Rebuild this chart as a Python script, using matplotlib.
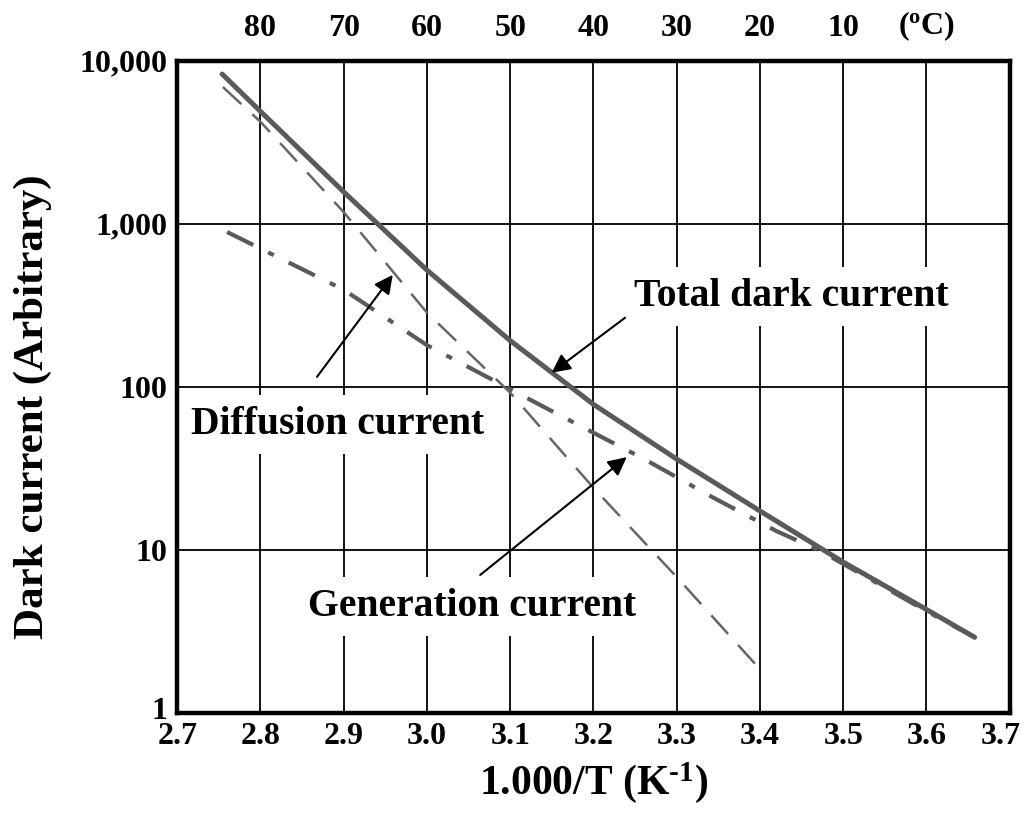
import numpy as np
import matplotlib
matplotlib.use("Agg")
import matplotlib.pyplot as plt
from matplotlib.transforms import ScaledTranslation

plt.rcParams['font.family'] = ['Liberation Serif', 'DejaVu Serif']
plt.rcParams['font.weight'] = 'bold'
plt.rcParams['axes.labelweight'] = 'bold'
plt.rcParams['mathtext.fontset'] = 'custom'
plt.rcParams['mathtext.rm'] = 'Liberation Serif:bold'
plt.rcParams['mathtext.it'] = 'Liberation Serif:bold'
plt.rcParams['mathtext.bf'] = 'Liberation Serif:bold'

# values
x_ticks = [2.7, 2.8, 2.9, 3.0, 3.1, 3.2, 3.3, 3.4, 3.5, 3.6, 3.7]
x_labels = ["2.7", "2.8", "2.9", "3.0", "3.1", "3.2", "3.3", "3.4", "3.5", "3.6", "3.7"]
y_ticks = [1, 10, 100, 1000, 10000]
y_labels = ["1", "10", "100", "1,000", "10,000"]
top_ticks = [2.8, 2.9, 3.0, 3.1, 3.2, 3.3, 3.4, 3.5, 3.6]
top_labels = ["80", "70", "60", "50", "40", "30", "20", "10", r"(${}^{\rm o}$C)"]

total_x = [2.754, 2.8, 2.9, 3.0, 3.1, 3.2, 3.3, 3.4, 3.5, 3.6, 3.658]
total_y = [8300, 4900, 1570, 520, 192, 78, 36, 17.3, 8.4, 4.3, 2.9]

diff_x = [2.755, 2.8, 2.9, 3.0, 3.1, 3.2, 3.3, 3.406]
diff_y = [6900, 4230, 1180, 285, 92, 24, 6.8, 1.71]

gen_x = [2.76, 2.9, 3.0, 3.152, 3.261, 3.343, 3.42, 3.473, 3.6, 3.658]
gen_y = [890, 394, 180, 70, 36, 21, 13, 9.8, 4.2, 2.9]

fig = plt.figure(figsize=(10.24, 8.22), dpi=100)
ax = fig.add_axes([0.173, 0.133, 0.813, 0.793])
ax.set_yscale('log')
ax.set_xlim(2.7, 3.7)
ax.set_ylim(1, 10000)

ax.set_xticks(x_ticks, labels=x_labels)
ax.set_yticks(y_ticks, labels=y_labels)
ax.minorticks_off()
ax.tick_params(length=0, labelsize=23)
ax.tick_params(axis='x', pad=7)
ax.tick_params(axis='y', pad=7)
ax.grid(True, which='major', color='black', lw=1.3)
ax.set_axisbelow(True)
for sp in ax.spines.values():
    sp.set_linewidth(3.2)

# nudge the corner labels so they neither collide nor leave the figure
last = ax.get_xticklabels()[-1]
last.set_transform(last.get_transform() + ScaledTranslation(-0.09, 0, fig.dpi_scale_trans))
one = ax.get_yticklabels()[0]
one.set_transform(one.get_transform() + ScaledTranslation(0, 0.05, fig.dpi_scale_trans))

gray = '#5a5a5a'
ax.plot(gen_x, gen_y, color=gray, lw=3.0, dashes=(7, 4, 1.5, 4), zorder=3)
ax.plot(diff_x, diff_y, color='#666666', lw=1.8, dashes=(10, 6), zorder=3)
ax.plot(total_x, total_y, color=gray, lw=3.6, solid_capstyle='round', zorder=4)

box = dict(facecolor='white', edgecolor='none', pad=8)
ax.text(3.438, 356, "Total dark current", fontsize=28.5, ha='center', va='center',
        bbox=box, zorder=5)
ax.text(2.893, 59, "Diffusion current", fontsize=28.5, ha='center', va='center',
        bbox=box, zorder=5)
ax.text(3.054, 4.47, "Generation current", fontsize=28.5, ha='center', va='center',
        bbox=box, zorder=5)

arrow = dict(arrowstyle='-|>', color='black', lw=1.5, mutation_scale=28,
             shrinkA=0, shrinkB=0)
ax.annotate("", xy=(3.150, 122), xytext=(3.238, 265), arrowprops=arrow, zorder=6)
ax.annotate("", xy=(2.959, 486), xytext=(2.868, 115), arrowprops=arrow, zorder=6)
ax.annotate("", xy=(3.240, 37), xytext=(3.064, 7.0), arrowprops=arrow, zorder=6)

top = ax.secondary_xaxis('top')
top.set_xticks(top_ticks, labels=top_labels)
top.tick_params(length=0, labelsize=23, pad=13)
top.spines['top'].set_visible(False)

ax.set_xlabel(r"1.000/T (K$^{\text{-1}}$)", fontsize=30, labelpad=6)
ax.set_ylabel("Dark current (Arbitrary)", fontsize=31)
ax.yaxis.set_label_coords(-0.150, 0.469)

fig.savefig("out.png", dpi=100)
